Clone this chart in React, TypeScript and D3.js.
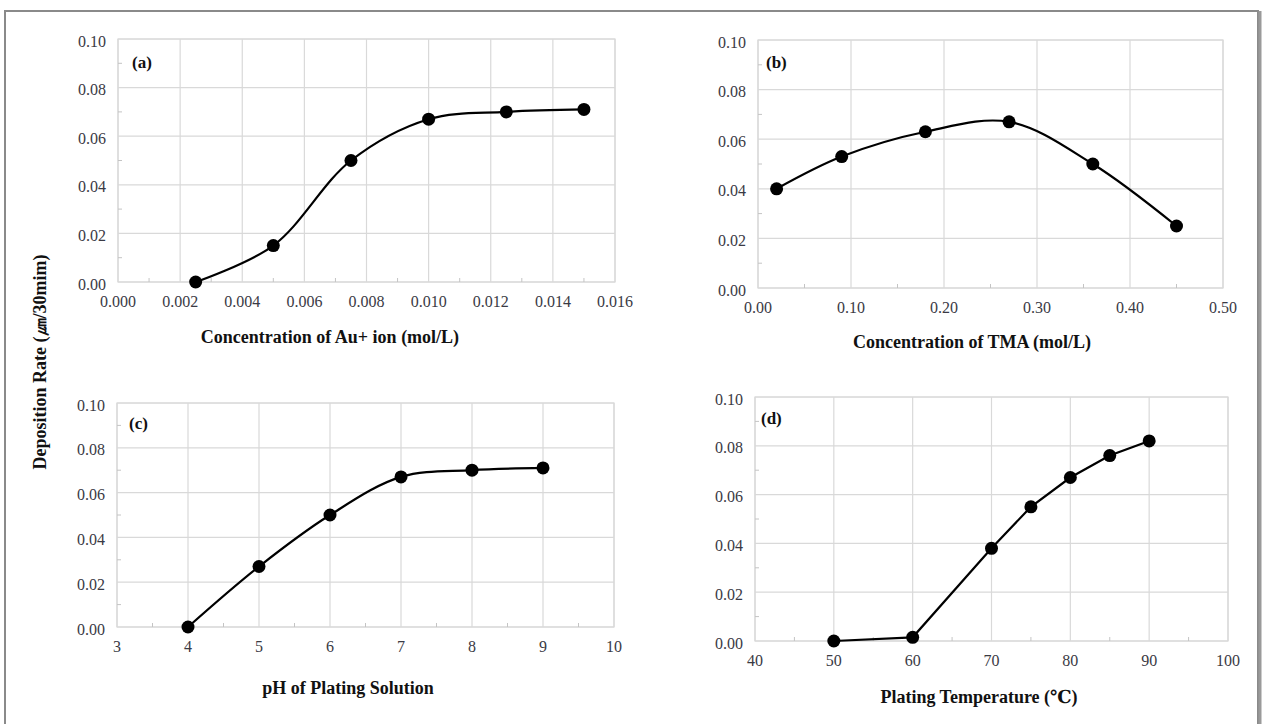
import React from "react";
import * as d3 from "d3";

// (a) Au+ ion concentration series
const auConc = [0.0025, 0.005, 0.0075, 0.01, 0.0125, 0.015];
const auRate = [0.0, 0.015, 0.05, 0.067, 0.07, 0.071];
// (b) TMA concentration series
const tmaConc = [0.02, 0.09, 0.18, 0.27, 0.36, 0.45];
const tmaRate = [0.04, 0.053, 0.063, 0.067, 0.05, 0.025];
// (c) pH series
const phValues = [4, 5, 6, 7, 8, 9];
const phRate = [0.0, 0.027, 0.05, 0.067, 0.07, 0.071];
// (d) temperature series
const tempValues = [50, 60, 70, 75, 80, 85, 90];
const tempRate = [0.0, 0.0015, 0.038, 0.055, 0.067, 0.076, 0.082];

// Axis ticks
const rateTicks = [0, 0.02, 0.04, 0.06, 0.08, 0.1];
const auTicks = [0, 0.002, 0.004, 0.006, 0.008, 0.01, 0.012, 0.014, 0.016];
const tmaTicks = [0, 0.1, 0.2, 0.3, 0.4, 0.5];
const phTicks = [3, 4, 5, 6, 7, 8, 9, 10];
const tempTicks = [40, 50, 60, 70, 80, 90, 100];

const yLabel = "Deposition Rate (㎛/30mim)";

type PanelSpec = {
  letter: string;
  xs: number[];
  ys: number[];
  xTicks: number[];
  xFmt: (v: number) => string;
  title: string;
  box: { left: number; right: number; top: number; bottom: number };
  titlePos: [number, number];
  letterOff: [number, number];
  smooth: boolean;
};

const panels: PanelSpec[] = [
  {
    letter: "(a)",
    xs: auConc,
    ys: auRate,
    xTicks: auTicks,
    xFmt: d3.format(".3f"),
    title: "Concentration of Au+ ion (mol/L)",
    box: { left: 118, right: 615, top: 39, bottom: 282 },
    titlePos: [330, 337],
    letterOff: [14, 23],
    smooth: true,
  },
  {
    letter: "(b)",
    xs: tmaConc,
    ys: tmaRate,
    xTicks: tmaTicks,
    xFmt: d3.format(".2f"),
    title: "Concentration of TMA (mol/L)",
    box: { left: 758, right: 1223, top: 40, bottom: 288 },
    titlePos: [972, 342],
    letterOff: [8, 22],
    smooth: true,
  },
  {
    letter: "(c)",
    xs: phValues,
    ys: phRate,
    xTicks: phTicks,
    xFmt: d3.format("d"),
    title: "pH of Plating Solution",
    box: { left: 117, right: 614, top: 403, bottom: 627 },
    titlePos: [348, 688],
    letterOff: [12, 20],
    smooth: true,
  },
  {
    letter: "(d)",
    xs: tempValues,
    ys: tempRate,
    xTicks: tempTicks,
    xFmt: d3.format("d"),
    title: "Plating Temperature (℃)",
    box: { left: 755, right: 1228, top: 397, bottom: 641 },
    titlePos: [979, 697],
    letterOff: [6, 21],
    smooth: false,
  },
];

const SERIF = "'Liberation Serif', 'Times New Roman', 'DejaVu Serif', serif";
const GRID = "#d9d9d9";
const TICK_TEXT = "#3a3a44";

function midpoints(t: number[]): number[] {
  const out: number[] = [];
  for (let i = 0; i < t.length - 1; i++) out.push((t[i] + t[i + 1]) / 2);
  return out;
}

function Panel({ p }: { p: PanelSpec }) {
  const { left, right, top, bottom } = p.box;
  const x = d3
    .scaleLinear()
    .domain([p.xTicks[0], p.xTicks[p.xTicks.length - 1]])
    .range([left, right]);
  const y = d3.scaleLinear().domain([0, 0.1]).range([bottom, top]);
  const pts = p.xs.map((v, i) => [v, p.ys[i]] as [number, number]);
  const line = d3
    .line<[number, number]>()
    .x((d) => x(d[0]))
    .y((d) => y(d[1]))
    .curve(p.smooth ? d3.curveCatmullRom.alpha(0.5) : d3.curveLinear);
  const yFmt = d3.format(".2f");
  const xMinor = midpoints(p.xTicks);
  const yMinor = midpoints(rateTicks);

  return (
    <g>
      {/* gridlines */}
      {rateTicks.map((t) => (
        <line key={"gy" + t} x1={left} x2={right} y1={y(t)} y2={y(t)} stroke={GRID} strokeWidth={1.2} />
      ))}
      {p.xTicks.map((t) => (
        <line key={"gx" + t} x1={x(t)} x2={x(t)} y1={top} y2={bottom} stroke={GRID} strokeWidth={1.2} />
      ))}
      <rect x={left} y={top} width={right - left} height={bottom - top} fill="none" stroke={GRID} strokeWidth={1.2} />
      {/* minor ticks */}
      {yMinor.map((t) => (
        <line key={"my" + t} x1={left} x2={left + 4} y1={y(t)} y2={y(t)} stroke="#c4c4c4" strokeWidth={1} />
      ))}
      {xMinor.map((t) => (
        <line key={"mx" + t} x1={x(t)} x2={x(t)} y1={bottom} y2={bottom - 4} stroke="#c4c4c4" strokeWidth={1} />
      ))}
      {/* tick labels */}
      {rateTicks.map((t) => (
        <text
          key={"ly" + t}
          x={left - 12}
          y={y(t) + 2}
          textAnchor="end"
          dominantBaseline="central"
          fontFamily={SERIF}
          fontSize={16}
          fill={TICK_TEXT}
        >
          {yFmt(t)}
        </text>
      ))}
      {p.xTicks.map((t) => (
        <text
          key={"lx" + t}
          x={x(t)}
          y={bottom + 19}
          textAnchor="middle"
          dominantBaseline="central"
          fontFamily={SERIF}
          fontSize={16}
          fill={TICK_TEXT}
        >
          {p.xFmt(t)}
        </text>
      ))}
      {/* data */}
      <path d={line(pts) || ""} fill="none" stroke="#000" strokeWidth={2.2} />
      {pts.map((d, i) => (
        <circle key={"pt" + i} cx={x(d[0])} cy={y(d[1])} r={6.5} fill="#000" />
      ))}
      {/* panel letter */}
      <text
        x={left + p.letterOff[0]}
        y={top + p.letterOff[1]}
        dominantBaseline="central"
        fontFamily={SERIF}
        fontWeight="bold"
        fontSize={17}
        fill="#111"
      >
        {p.letter}
      </text>
      {/* axis title */}
      <text
        x={p.titlePos[0]}
        y={p.titlePos[1]}
        textAnchor="middle"
        dominantBaseline="central"
        fontFamily={SERIF}
        fontWeight="bold"
        fontSize={18}
        fill="#111"
      >
        {p.title}
      </text>
    </g>
  );
}

export default function App() {
  return (
    <svg
      width={1264}
      height={724}
      style={{ position: "absolute", left: 0, top: 0, background: "#fff" }}
    >
      <rect x={0} y={0} width={1264} height={724} fill="#fff" />
      {/* outer frame */}
      <rect x={5} y={11} width={1253} height={720} fill="none" stroke="#8a8a8a" strokeWidth={2} />
      <line x1={1260} x2={1260} y1={11} y2={724} stroke="#9a9a9a" strokeWidth={3} />
      {panels.map((p) => (
        <Panel key={p.letter} p={p} />
      ))}
      <text
        transform="translate(40,362) rotate(-90)"
        textAnchor="middle"
        dominantBaseline="central"
        fontFamily={SERIF}
        fontWeight="bold"
        fontSize={18}
        fill="#111"
      >
        {yLabel}
      </text>
    </svg>
  );
}
